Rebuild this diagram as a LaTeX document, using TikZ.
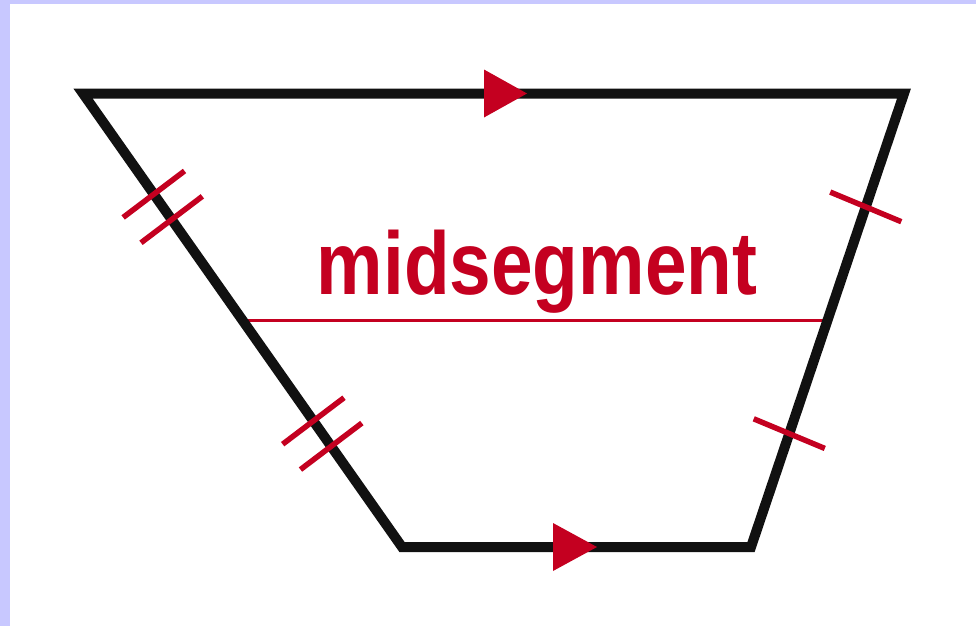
\documentclass[tikz,border=0pt]{standalone}
\usepackage{fontspec}
\newfontfamily\labelfont{Liberation Sans}
\usetikzlibrary{calc}
\definecolor{midred}{RGB}{196,0,32}
\definecolor{lav}{RGB}{200,200,255}
\definecolor{edgeblack}{RGB}{17,17,17}
\tikzset{
  sideline/.style={draw=edgeblack,line width=10pt,line join=miter},
  tickmark/.style={draw=midred,line width=5.5pt},
  midline/.style={draw=midred,line width=3.5pt},
  arrowmark/.style={fill=midred,draw=none},
}
\begin{document}
\begin{tikzpicture}[x=1pt,y=-1pt]
\useasboundingbox (0,0) rectangle (976,626);
\fill[lav] (0,0) rectangle (976,626);
\fill[white] (10,4) rectangle (976,626);
% vertices
\coordinate (TL) at (83,93.5);
\coordinate (TR) at (904,93.5);
\coordinate (BR) at (751,547);
\coordinate (BL) at (402,547);
\coordinate (ML) at ($(TL)!0.5!(BL)$);
\coordinate (MR) at ($(TR)!0.5!(BR)$);
% midsegment
\draw[midline] (ML) -- (MR);
% trapezoid
\draw[sideline] (TL) -- (TR) -- (BR) -- (BL) -- cycle;
% parallel arrows
\fill[arrowmark] (484,69.5) -- (527,93.5) -- (484,117.5) -- cycle;
\fill[arrowmark] (553,523) -- (597,547) -- (553,571) -- cycle;
% double ticks on left side
\foreach \t in {0.25,0.75}{
  \coordinate (M) at ($(TL)!\t!(BL)$);
  \foreach \s in {-15.5,15.5}{
    \coordinate (P) at ($(M)!\s pt!(BL)$);
    \draw[tickmark] ($(P)!38.5pt!-88:(BL)$) -- ($(P)!38.5pt!92:(BL)$);
  }
}
% single ticks on right side
\foreach \t in {0.25,0.75}{
  \coordinate (N) at ($(TR)!\t!(BR)$);
  \draw[tickmark] ($(N)!38.5pt!86:(BR)$) -- ($(N)!38.5pt!-94:(BR)$);
}
% label
\node[anchor=base,inner sep=0pt,text=midred,xscale=0.84] (lbl) at (537,294)
  {\labelfont\bfseries\fontsize{89}{89}\selectfont midsegment};
\end{tikzpicture}
\end{document}
